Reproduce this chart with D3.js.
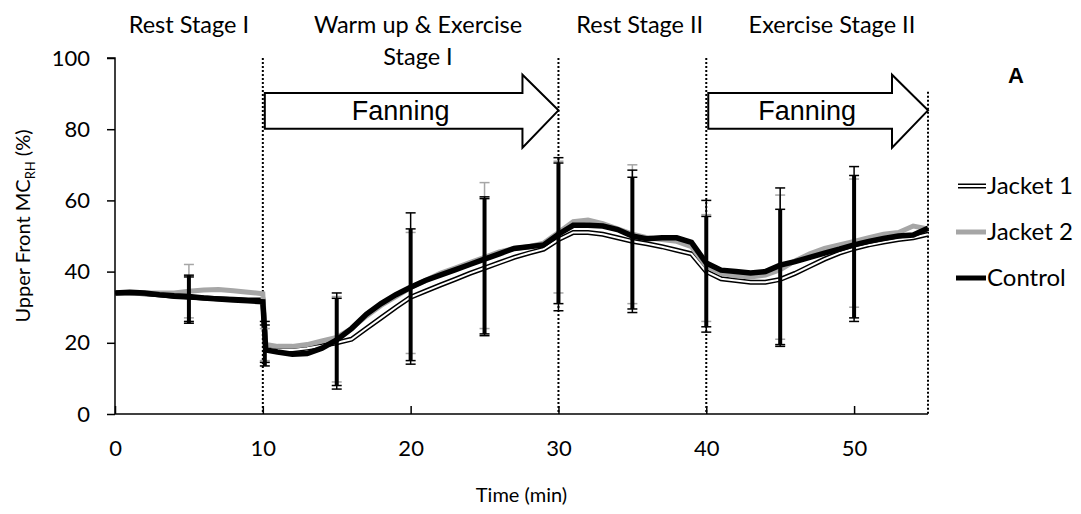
<!DOCTYPE html>
<html>
<head>
<meta charset="utf-8">
<script src="https://cdn.jsdelivr.net/npm/d3@7"></script>
<style>
  body { margin: 0; background: #fff; }
  svg { display: block; }
  .lbl { font-family: Lato, "Open Sans", sans-serif; fill: #000; }
</style>
</head>
<body>
<div id="chart"></div>
<script>
// time points (min); 10.2 is the step right after fanning starts
const times = [0, 1, 2, 3, 4, 5, 6, 7, 8, 9, 10, 10.2, 11, 12, 13, 14, 15, 16, 17, 18, 19, 20,
    21, 22, 23, 24, 25, 26, 27, 28, 29, 30, 31, 32, 33, 34, 35, 36, 37, 38, 39, 40,
    41, 42, 43, 44, 45, 46, 47, 48, 49, 50, 51, 52, 53, 54, 55];

const jacket1 = [34, 34, 33.8, 33.5, 33, 32.8, 32.6, 32.4, 32.2, 32, 32, 18.5, 18, 18, 18.5, 19.2, 20, 21, 24, 27, 30, 32.8,
    34.5, 36.2, 37.8, 39.5, 41, 42.5, 44, 45.2, 46.3, 49, 51, 51, 50.5, 49.5, 48.5, 47.8, 47, 46, 45, 40,
    38, 37.5, 37, 37, 37.8, 39.5, 41.5, 43.5, 45.2, 46.5, 47.5, 48.3, 49, 49.5, 50.5];

const jacket2 = [34, 34, 34, 34, 34, 34.5, 34.8, 35, 34.6, 34.2, 33.8, 19.5, 19, 19, 19.5, 20.5, 21.5, 24, 27.5, 30.5, 33, 35.5,
    37.5, 39.5, 41, 42.5, 44, 45.5, 46.5, 47, 48, 51, 54, 54.5, 53.5, 52, 50.5, 49.5, 49, 48.5, 47, 41.5,
    39.5, 38.8, 38.5, 39, 40.5, 43, 45, 46.5, 47.5, 48.5, 49.5, 50.5, 51, 52.8, 52];

const control = [34, 34.2, 34, 33.5, 33.2, 33, 32.6, 32.3, 32, 31.8, 31.5, 18, 17.4, 16.8, 17, 18.5, 20.8, 24, 28, 31, 33.5, 35.6,
    37.5, 39, 40.5, 42, 43.5, 45, 46.5, 47, 47.5, 50.5, 53, 53, 52.8, 51.8, 50, 49.2, 49.5, 49.5, 48.2, 42.4,
    40.4, 40, 39.6, 40, 41.8, 42.8, 44, 45.2, 46.3, 47.5, 48.5, 49.3, 50, 50.3, 52.2];

// error bars (standard deviation ends)
const errTimes = [5, 10, 15, 20, 25, 30, 35, 40, 45, 50];
const controlHi = [39, 25, 32.5, 52, 60.5, 70.5, 66.5, 55.5, 57.5, 67];
const controlLo = [25.5, 13.5, 8, 15, 22.5, 31, 29.5, 24.5, 19.5, 27];
const jacket1Hi = [38.5, 26, 34, 56.5, 61, 72, 68.5, 60, 63.5, 69.5];
const jacket1Lo = [26, 14.5, 7, 14, 22, 29, 28.5, 23, 19, 26];
const jacket2Hi = [42, 24, 33, 51, 65, 71, 70, 56, 61.5, 66];
const jacket2Lo = [27, 15, 9, 17, 24, 34, 31, 26, 21, 30];

const xTicks = [0, 10, 20, 30, 40, 50];
const yTicks = [0, 20, 40, 60, 80, 100];
const stageLines = [10, 30, 40, 55];
const stageNames = [["Rest Stage I"], ["Warm up & Exercise", "Stage I"], ["Rest Stage II"], ["Exercise Stage II"]];
const stageCenters = [5, 20.5, 35.5, 48.5];
const fanning = [[10, 30], [40, 55]];
const legendNames = ["Jacket 1", "Jacket 2", "Control"];

const width = 1081, height = 514;
const svg = d3.select("#chart").append("svg")
    .attr("width", width)
    .attr("height", height);

const x = d3.scaleLinear().domain([0, 55]).range([115, 928]);
const y = d3.scaleLinear().domain([0, 100]).range([414, 58]);

// stage separators
svg.selectAll("line.stage")
    .data(stageLines)
    .enter().append("line")
    .attr("class", "stage")
    .attr("x1", d => x(d)).attr("x2", d => x(d))
    .attr("y1", d => d === 55 ? y(90.5) : y(100))
    .attr("y2", y(0))
    .attr("stroke", "#000")
    .attr("stroke-width", 2)
    .attr("stroke-dasharray", "2,2");

// fanning arrows
fanning.forEach(function (f) {
    const x0 = x(f[0]) + 2, x1 = x(f[1]);
    const headX = x1 - 36;
    const pts = [[x0, y(90.2)], [headX, y(90.2)], [headX, y(95.3)], [x1, y(85.3)],
        [headX, y(74.8)], [headX, y(80.1)], [x0, y(80.1)]];
    svg.append("path")
        .attr("d", "M" + pts.join("L") + "Z")
        .attr("fill", "#fff")
        .attr("stroke", "#000")
        .attr("stroke-width", 2);
    svg.append("text")
        .attr("x", (x0 + headX) / 2 + 7)
        .attr("y", y(85.3) + 10)
        .attr("text-anchor", "middle")
        .style("font-family", "'Liberation Sans', Arial, sans-serif")
        .style("font-size", "27px")
        .text("Fanning");
});

// stage names
stageNames.forEach(function (lines, i) {
    lines.forEach(function (t, j) {
        svg.append("text")
            .attr("class", "lbl")
            .attr("x", x(stageCenters[i]))
            .attr("y", 33 + j * 32)
            .attr("text-anchor", "middle")
            .style("font-size", "23.5px")
            .text(t);
    });
});

// axes
const yAxis = svg.append("g")
    .attr("transform", "translate(" + x(0) + ",0)")
    .call(d3.axisLeft(y).tickValues(yTicks).tickSize(8).tickPadding(17));
const xAxis = svg.append("g")
    .attr("transform", "translate(0," + y(0) + ")")
    .call(d3.axisBottom(x).tickValues(xTicks).tickSize(-8).tickPadding(26).tickSizeOuter(0));
[yAxis, xAxis].forEach(function (g) {
    g.select(".domain").attr("stroke", "#000").attr("stroke-width", 1.5);
    g.selectAll(".tick line").attr("stroke", "#000").attr("stroke-width", 1.5);
    g.selectAll(".tick text")
        .attr("class", "lbl")
        .style("font-size", "22px");
});
xAxis.select(".domain").attr("d", "M" + x(0) + ",0H" + x(55));
yAxis.select(".domain").attr("d", "M-8," + y(100) + "H0V" + y(0));

// series
const line = d3.line()
    .x(function (d, i) { return x(times[i]); })
    .y(function (d) { return y(d); });

svg.append("path").datum(jacket1).attr("d", line)
    .attr("fill", "none").attr("stroke", "#000").attr("stroke-width", 5);
svg.append("path").datum(jacket1).attr("d", line)
    .attr("fill", "none").attr("stroke", "#fff").attr("stroke-width", 2);
svg.append("path").datum(jacket2).attr("d", line)
    .attr("fill", "none").attr("stroke", "#a6a6a6").attr("stroke-width", 5);
svg.append("path").datum(control).attr("d", line)
    .attr("fill", "none").attr("stroke", "#000").attr("stroke-width", 5.5);

// error bars
function drawErrors(hi, lo, color, barWidth) {
    const g = svg.append("g");
    errTimes.forEach(function (t, i) {
        const cx = x(t) + (t === 10 ? 2 : 0);
        g.append("line")
            .attr("x1", cx).attr("x2", cx)
            .attr("y1", y(lo[i])).attr("y2", y(hi[i]))
            .attr("stroke", color).attr("stroke-width", barWidth);
        [hi[i], lo[i]].forEach(function (v) {
            g.append("line")
                .attr("x1", cx - 5).attr("x2", cx + 5)
                .attr("y1", y(v)).attr("y2", y(v))
                .attr("stroke", color).attr("stroke-width", 1.5);
        });
    });
}
drawErrors(jacket2Hi, jacket2Lo, "#a6a6a6", 1.5);
drawErrors(jacket1Hi, jacket1Lo, "#000", 1.5);
drawErrors(controlHi, controlLo, "#000", 4);

// legend
const legend = svg.append("g");
legendNames.forEach(function (name, i) {
    const ly = 186 + i * 46;
    if (i === 0) {
        legend.append("line").attr("x1", 958).attr("x2", 986).attr("y1", ly).attr("y2", ly)
            .attr("stroke", "#000").attr("stroke-width", 5);
        legend.append("line").attr("x1", 958).attr("x2", 986).attr("y1", ly).attr("y2", ly)
            .attr("stroke", "#fff").attr("stroke-width", 2);
    } else {
        legend.append("line").attr("x1", 956).attr("x2", 986).attr("y1", ly).attr("y2", ly)
            .attr("stroke", i === 1 ? "#a6a6a6" : "#000").attr("stroke-width", 5);
    }
    legend.append("text")
        .attr("class", "lbl")
        .attr("x", 987)
        .attr("y", ly + 8)
        .style("font-size", "24px")
        .text(name);
});

// panel letter
svg.append("text")
    .attr("x", 1016).attr("y", 83)
    .attr("text-anchor", "middle")
    .style("font-family", "'Liberation Sans', Arial, sans-serif")
    .style("font-weight", "bold")
    .style("font-size", "22px")
    .text("A");

// axis titles
svg.append("text")
    .attr("class", "lbl")
    .attr("x", x(27.5))
    .attr("y", 502)
    .attr("text-anchor", "middle")
    .style("font-size", "20px")
    .text("Time (min)");

const yTitle = svg.append("text")
    .attr("class", "lbl")
    .attr("transform", "translate(30,226) rotate(-90)")
    .attr("text-anchor", "middle")
    .style("font-size", "20px");
yTitle.append("tspan").text("Upper Front MC");
yTitle.append("tspan").attr("dy", 5).style("font-size", "13px").text("RH");
yTitle.append("tspan").attr("dy", -5).text(" (%)");
</script>
</body>
</html>
